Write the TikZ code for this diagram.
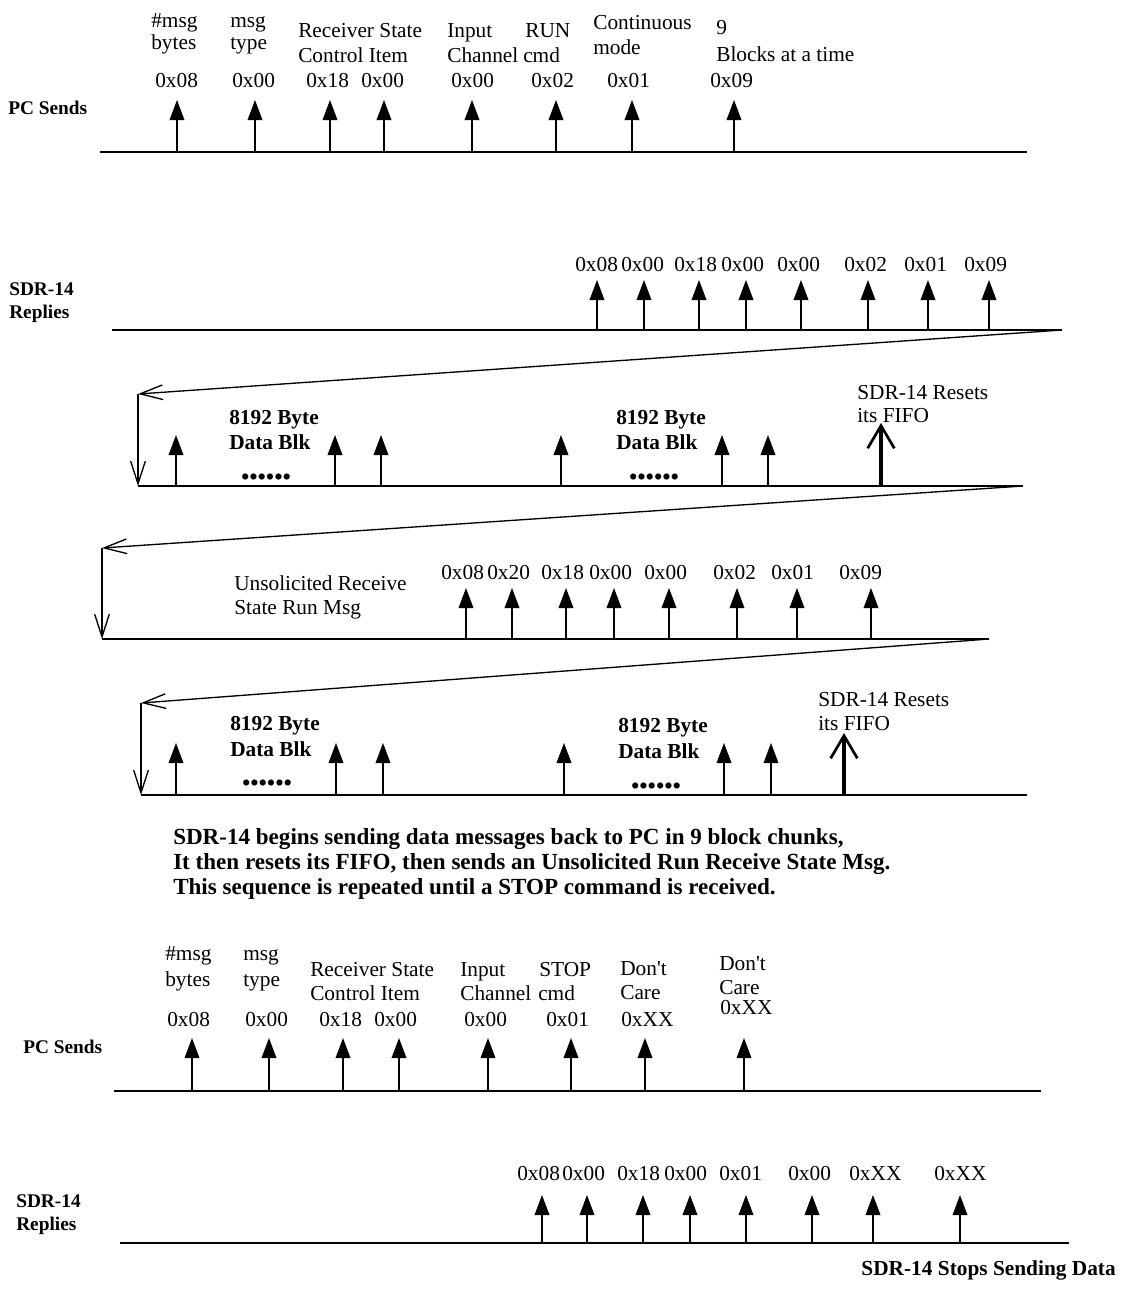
\documentclass[tikz,border=0pt]{standalone}
\usepackage{fontspec}
\setmainfont{Liberation Serif}
\usetikzlibrary{arrows.meta}
\newcommand\bulletrow{{\fontsize{17}{17}\selectfont\textbullet\kern0.3pt\textbullet\kern0.3pt\textbullet\kern0.3pt\textbullet\kern0.3pt\textbullet\kern0.3pt\textbullet}}
\begin{document}
\begin{tikzpicture}[x=0.75pt,y=-0.75pt,
  lab/.style={anchor=base west, inner sep=0pt, yshift=-5.25pt, font=\fontsize{16}{19}\selectfont},
  blab/.style={anchor=base west, inner sep=0pt, yshift=-5.25pt, font=\fontsize{14.5}{17}\selectfont\bfseries},
  dlab/.style={anchor=base west, inner sep=0pt, yshift=-5.25pt, font=\fontsize{16}{19}\selectfont\bfseries},
  plab/.style={anchor=base west, inner sep=0pt, yshift=-5.25pt, font=\fontsize{17.3}{19}\selectfont\bfseries},
  axisline/.style={line width=1.2pt},
  tick/.style={line width=1pt, -{Triangle[length=15pt,width=11pt]}},
  reset/.style={line width=3pt, -{Straight Barb[length=17pt,width=20pt,line width=2pt]}},
  ret/.style={line width=1pt, -{Straight Barb[length=17pt,width=11pt]}},
]
\useasboundingbox (0,0) rectangle (1122,1289);

% ---------------- Section 1 : PC Sends ----------------
\node[blab] (pc1) at (8,107) {PC Sends};
\node[lab] (a1) at (151,20) {\#msg};   \node[lab] (a2) at (151,42) {bytes};
\node[lab] (b1) at (230,20) {msg};     \node[lab] (b2) at (230,42) {type};
\node[lab] (c1) at (298,30) {Receiver State}; \node[lab] (c2) at (298,55) {Control Item};
\node[lab] (d1) at (447,30) {Input};   \node[lab] (d2) at (447,55) {Channel};
\node[lab] (e1) at (525,30) {RUN};     \node[lab] (e2) at (523,55) {cmd};
\node[lab] (f1) at (593,22) {Continuous}; \node[lab] (f2) at (593,47) {mode};
\node[lab] (g1) at (716,27) {9};       \node[lab] (g2) at (716,54) {Blocks at a time};
\foreach \x/\t [count=\i] in {155/0x08,232/0x00,306/0x18,361/0x00,451/0x00,531/0x02,607/0x01,710/0x09}
  \node[lab] (v1\i) at (\x,80) {\t};
\coordinate (L1a) at (100,152); \coordinate (L1b) at (1027,152);
\draw[axisline] (L1a) -- (L1b);
\foreach \x in {177,255,330,384,472,556,632,734}
  \draw[tick] (\x,152) -- (\x,100);

% ---------------- Section 2 : SDR-14 Replies ----------------
\node[blab] (sdr1) at (9,288) {SDR-14};
\node[blab] (rep1) at (9,311) {Replies};
\foreach \x/\t [count=\i] in {575/0x08,621/0x00,674/0x18,721/0x00,777/0x00,844/0x02,904/0x01,964/0x09}
  \node[lab] (v2\i) at (\x,264) {\t};
\coordinate (L2a) at (112,330); \coordinate (L2b) at (1062,330);
\draw[axisline] (L2a) -- (L2b);
\foreach \x in {597,644,699,746,801,868,928,989}
  \draw[tick] (\x,330) -- (\x,280);

% return to row 3
\coordinate (R3t) at (138,394); \coordinate (L3a) at (138,486); \coordinate (L3b) at (1023,486);
\draw[ret] (L2b) -- (R3t);
\draw[ret] (R3t) -- (L3a);
\draw[axisline] (L3a) -- (L3b);
\foreach \x in {176,335,381,561,722,768}
  \draw[tick] (\x,486) -- (\x,435);
\draw[reset] (881,486) -- (881,423);
\node[dlab] (db1a) at (229,417) {8192 Byte}; \node[dlab] (db1b) at (229,442) {Data Blk};
\node[dlab] (dt1) at (241,477) {\bulletrow};
\node[dlab] (db2a) at (616,417) {8192 Byte}; \node[dlab] (db2b) at (616,442) {Data Blk};
\node[dlab] (dt2) at (629,477) {\bulletrow};
\node[lab] (rs1a) at (857,392) {SDR-14 Resets}; \node[lab] (rs1b) at (857,415) {its FIFO};

% return to row 4
\coordinate (R4t) at (102,548); \coordinate (L4a) at (102,639); \coordinate (L4b) at (989,639);
\draw[ret] (L3b) -- (R4t);
\draw[ret] (R4t) -- (L4a);
\draw[axisline] (L4a) -- (L4b);
\node[lab] (un1) at (234,583) {Unsolicited Receive};
\node[lab] (un2) at (234,607) {State Run Msg};
\foreach \x/\t [count=\i] in {441/0x08,487/0x20,541/0x18,589/0x00,644/0x00,713/0x02,771/0x01,839/0x09}
  \node[lab] (v4\i) at (\x,572) {\t};
\foreach \x in {466,512,566,614,669,737,797,871}
  \draw[tick] (\x,639) -- (\x,588);

% return to row 5
\coordinate (R5t) at (141,703); \coordinate (L5a) at (141,795); \coordinate (L5b) at (1027,795);
\draw[ret] (L4b) -- (R5t);
\draw[ret] (R5t) -- (L5a);
\draw[axisline] (L5a) -- (L5b);
\foreach \x in {176,336,383,564,724,771}
  \draw[tick] (\x,795) -- (\x,743);
\draw[reset] (844,795) -- (844,733);
\node[dlab] (db3a) at (230,723) {8192 Byte}; \node[dlab] (db3b) at (230,749) {Data Blk};
\node[dlab] (dt3) at (242,783) {\bulletrow};
\node[dlab] (db4a) at (618,725) {8192 Byte}; \node[dlab] (db4b) at (618,751) {Data Blk};
\node[dlab] (dt4) at (631,786) {\bulletrow};
\node[lab] (rs2a) at (818,699) {SDR-14 Resets}; \node[lab] (rs2b) at (818,723) {its FIFO};

% ---------------- Paragraph ----------------
\node[plab] (p1) at (173,837) {SDR-14 begins sending data messages back to PC in 9 block chunks,};
\node[plab] (p2) at (173,862) {It then resets its FIFO, then sends an Unsolicited Run Receive State Msg.};
\node[plab] (p3) at (173,887) {This sequence is repeated until a STOP command is received.};

% ---------------- Section 6 : PC Sends STOP ----------------
\node[blab] (pc2) at (23,1046) {PC Sends};
\node[lab] (s1) at (165,953) {\#msg};   \node[lab] (s2) at (165,979) {bytes};
\node[lab] (t1) at (243,953) {msg};     \node[lab] (t2) at (243,979) {type};
\node[lab] (u1) at (310,969) {Receiver State}; \node[lab] (u2) at (310,993) {Control Item};
\node[lab] (w1) at (460,969) {Input};   \node[lab] (w2) at (460,993) {Channel};
\node[lab] (x1) at (539,969) {STOP};    \node[lab] (x2) at (538,993) {cmd};
\node[lab] (y1) at (620,968) {Don\textquotesingle t};   \node[lab] (y2) at (620,992) {Care};
\node[lab] (z1) at (719,963) {Don\textquotesingle t};   \node[lab] (z2) at (719,987) {Care};
\node[lab] (z3) at (720,1007) {0xXX};
\foreach \x/\t [count=\i] in {167/0x08,245/0x00,319/0x18,374/0x00,464/0x00,546/0x01,621/0xXX}
  \node[lab] (v6\i) at (\x,1019) {\t};
\coordinate (L6a) at (114,1091); \coordinate (L6b) at (1041,1091);
\draw[axisline] (L6a) -- (L6b);
\foreach \x in {192,269,343,399,488,571,645,744}
  \draw[tick] (\x,1091) -- (\x,1038);

% ---------------- Section 7 : SDR-14 Replies ----------------
\node[blab] (sdr2) at (16,1200) {SDR-14};
\node[blab] (rep2) at (16,1223) {Replies};
\foreach \x/\t [count=\i] in {517/0x08,562/0x00,617/0x18,664/0x00,719/0x01,788/0x00,849/0xXX,934/0xXX}
  \node[lab] (v7\i) at (\x,1173) {\t};
\coordinate (L7a) at (120,1243); \coordinate (L7b) at (1069,1243);
\draw[axisline] (L7a) -- (L7b);
\foreach \x in {542,587,643,690,746,812,873,960}
  \draw[tick] (\x,1243) -- (\x,1195);
\node[dlab, anchor=base east] (stop) at (1116,1268) {SDR-14 Stops Sending Data};
\end{tikzpicture}
\end{document}
